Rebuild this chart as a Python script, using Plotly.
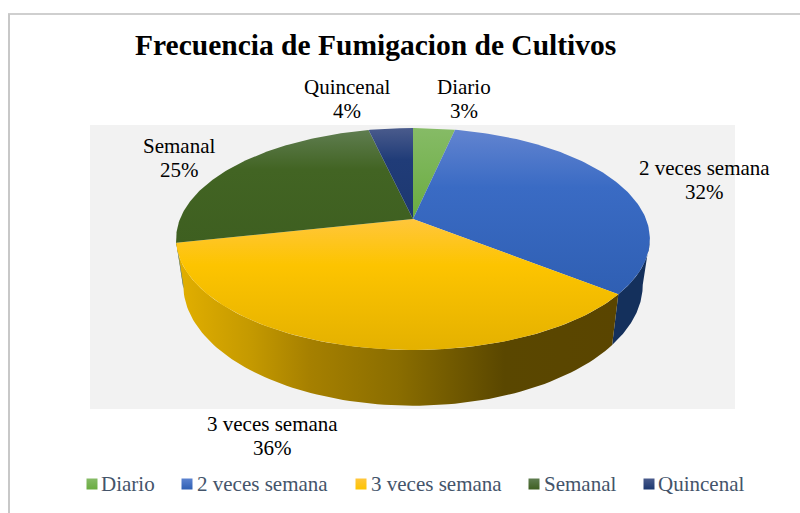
import numpy as np
import plotly.graph_objects as go

categories = ["Diario", "2 veces semana", "3 veces semana", "Semanal", "Quincenal"]
values = [3.4, 32.3, 35.9, 24.8, 3.6]
percent_labels = ["3%", "32%", "36%", "25%", "4%"]
title_text = "Frecuencia de Fumigacion de Cultivos"

top_stops = [
    ["#86bb66", "#6aac40"],
    ["#6284d0", "#3a6bc4", "#2f5fb3"],
    ["#ffc63c", "#fdc400", "#e4b100"],
    ["#5f7d50", "#426423", "#3e5f20"],
    ["#4a5b8c", "#203c78", "#1d3870"],
]
wall_scales = [
    [[0, "#5a8a3a"], [1, "#5a8a3a"]],
    [[0, "#14305c"], [1, "#14305c"]],
    [[0, "#e3b000"], [0.17, "#c49900"], [0.3, "#a68000"], [0.5, "#8a6d00"], [0.74, "#5a4700"], [1, "#5a4500"]],
    [[0, "#33501b"], [1, "#33501b"]],
    [[0, "#16294f"], [1, "#16294f"]],
]
swatch_top = ["#86bb66", "#5c83d0", "#ffc63c", "#5f7d50", "#4a5b8c"]
swatch_bottom = ["#6aac40", "#2f5fb3", "#fdc400", "#3e5f20", "#1d3870"]

# pixel-space layout of the tilted pie (projective image of a circle)
CX, APEX_TOP, APEX_BOT = 413.0, 219.0, 263.0
A_TOP, B_TOP, A_BOT, B_BOT = 233.0, 107.4, 226.0, 117.0
K = 0.18
THETA_R = np.arccos(-K)            # right silhouette tangent
THETA_L = 2 * np.pi - THETA_R      # left silhouette tangent


def project(theta, a, b, cy):
    x, y = np.sin(theta), np.cos(theta)
    w = 1 + K * y
    return CX + a * x / w, cy - b * y / w


fractions = np.cumsum([0] + values) / sum(values) * 2 * np.pi

fig = go.Figure()

# Only the arc between the two silhouette tangents shows a side wall.
for i in range(len(values)):
    start = max(fractions[i], THETA_R)
    end = min(fractions[i + 1], THETA_L)
    if end <= start:
        continue
    if THETA_L - end < 0.06:  # close the tiny sliver up to the left tangent
        end = THETA_L
    t = np.linspace(start, end, 90)
    xt, yt = project(t, A_TOP, B_TOP, APEX_TOP)
    xb, yb = project(t, A_BOT, B_BOT, APEX_BOT)
    xs = np.concatenate([xt, xb[::-1], xt[:1]])
    ys = np.concatenate([yt, yb[::-1], yt[:1]])
    fig.add_trace(go.Scatter(
        x=xs, y=ys, mode="lines", line=dict(width=0), fill="toself",
        fillgradient=dict(type="horizontal", colorscale=wall_scales[i], start=176, stop=620),
        showlegend=False, hoverinfo="skip"))

for i in range(len(values)):
    t = np.linspace(fractions[i], fractions[i + 1], 120)
    xt, yt = project(t, A_TOP, B_TOP, APEX_TOP)
    xs = np.concatenate([[CX], xt, [CX]])
    ys = np.concatenate([[APEX_TOP], yt, [APEX_TOP]])
    stops = top_stops[i]
    y0, y1 = ys.min(), ys.max()
    if len(stops) == 3:
        scale = [[0, stops[0]], [0.35, stops[1]], [1, stops[2]]]
    else:
        scale = [[0, stops[0]], [1, stops[1]]]
    fig.add_trace(go.Scatter(
        x=xs, y=ys, mode="lines", line=dict(width=0), fill="toself",
        fillgradient=dict(type="vertical", colorscale=scale, start=y0, stop=y1),
        name=categories[i], showlegend=False, hoverinfo="skip"))

label_pos = [(464, 87, 111), (704, 168, 192), (272, 424, 448), (179, 146, 170), (347, 87, 111)]
annotations = []
for i, c in enumerate(categories):
    for txt, yy in ((c, label_pos[i][1]), (percent_labels[i], label_pos[i][2])):
        annotations.append(dict(
            x=label_pos[i][0], y=yy, xref="x", yref="y",
            text=txt, showarrow=False, align="center",
            font=dict(family="Liberation Serif", size=21, color="#000000")))

legend_swatch_x = [92, 187, 361, 534, 649]
legend_text_x = [99, 195, 369, 542, 656]
for i, c in enumerate(categories):
    annotations.append(dict(
        x=legend_text_x[i], y=484, xref="x", yref="y", xanchor="left",
        text=c, showarrow=False,
        font=dict(family="Liberation Serif", size=21, color="#44546a")))
    fig.add_trace(go.Scatter(
        x=[legend_swatch_x[i]], y=[484], mode="markers", showlegend=False, hoverinfo="skip",
        marker=dict(symbol="square", size=11, color=swatch_top[i],
                    gradient=dict(type="vertical", color=swatch_bottom[i]))))

annotations.append(dict(
    x=375, y=45, xref="x", yref="y", text=f"<b>{title_text}</b>", showarrow=False,
    font=dict(family="Liberation Serif", size=29.5, color="#000000")))

shapes = [
    dict(type="rect", x0=90, x1=735, y0=125, y1=409, xref="x", yref="y",
         fillcolor="#f2f2f2", line=dict(width=0), layer="below"),
    dict(type="line", x0=8, x1=800, y0=14, y1=14, xref="x", yref="y",
         line=dict(color="#bfbfbf", width=1.5), layer="below"),
    dict(type="line", x0=9, x1=9, y0=14, y1=513, xref="x", yref="y",
         line=dict(color="#c8c8c8", width=2), layer="below"),
]

fig.update_layout(
    width=800, height=513, margin=dict(l=0, r=0, t=0, b=0),
    paper_bgcolor="white", plot_bgcolor="white", showlegend=False,
    xaxis=dict(range=[0, 800], visible=False, fixedrange=True),
    yaxis=dict(range=[513, 0], visible=False, fixedrange=True),
    annotations=annotations, shapes=shapes)

fig.write_html("out.html", config={"displayModeBar": False},
               post_script="document.body.style.margin='0';document.body.style.overflow='hidden';")
